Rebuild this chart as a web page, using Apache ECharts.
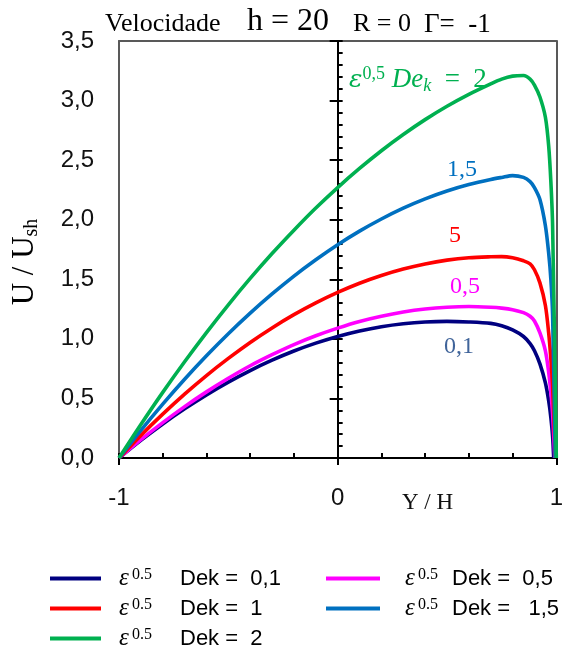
<!DOCTYPE html>
<html>
<head>
<meta charset="utf-8">
<script src="https://cdn.jsdelivr.net/npm/echarts@6/dist/echarts.min.js"></script>
<style>
  html, body { margin: 0; padding: 0; background: #fff; }
  #chart { width: 566px; height: 649px; }
</style>
</head>
<body>
<div id="chart"></div>
<script>
// Y/H positions across the channel (wall at +1 handled per profile)
const posY = [-1, -0.9, -0.8, -0.7, -0.6, -0.5, -0.4, -0.3, -0.2, -0.1, 0,
  0.1, 0.2, 0.3, 0.4, 0.5, 0.6, 0.7, 0.75, 0.8, 0.85, 0.88, 0.9, 0.925, 0.95, 0.965, 0.975, 0.983];
// position where each profile returns to zero at the upper wall
const wallPos = [0.988, 0.993, 0.995, 0.995, 1.0];

// U / Ush profiles for each value of eps^0.5 Dek
const dekNames = ['0,1', '0,5', '1', '1,5', '2'];
const u01 = [0, 0.148, 0.286, 0.413, 0.530, 0.637, 0.734, 0.821, 0.898, 0.964, 1.02,
  1.066, 1.102, 1.127, 1.142, 1.147, 1.142, 1.13, 1.11, 1.075, 1.02, 0.96, 0.9, 0.79, 0.63, 0.48, 0.34, 0.18];
const u05 = [0, 0.154, 0.297, 0.431, 0.555, 0.669, 0.774, 0.867, 0.952, 1.026, 1.09,
  1.146, 1.19, 1.225, 1.25, 1.265, 1.271, 1.265, 1.258, 1.245, 1.22, 1.19, 1.15, 1.05, 0.9, 0.72, 0.55, 0.37];
const u1 = [0, 0.19, 0.368, 0.536, 0.692, 0.836, 0.97, 1.092, 1.203, 1.302, 1.39,
  1.467, 1.532, 1.586, 1.629, 1.661, 1.681, 1.689, 1.69, 1.68, 1.655, 1.63, 1.58, 1.47, 1.28, 1.05, 0.83, 0.6];
const u15 = [0, 0.232, 0.452, 0.661, 0.858, 1.043, 1.216, 1.377, 1.527, 1.664, 1.79,
  1.904, 2.006, 2.097, 2.175, 2.241, 2.295, 2.338, 2.355, 2.37, 2.355, 2.32, 2.27, 2.17, 1.95, 1.72, 1.5, 1.2];
const u2 = [0, 0.281, 0.551, 0.808, 1.053, 1.286, 1.507, 1.716, 1.912, 2.098, 2.27,
  2.43, 2.579, 2.715, 2.84, 2.952, 3.052, 3.14, 3.18, 3.205, 3.21, 3.18, 3.13, 3.03, 2.86, 2.62, 2.32, 1.95];
const profiles = [u01, u05, u1, u15, u2];
const colors = ['#000080', '#FF00FF', '#FF0000', '#0070C0', '#00B050'];

const yTicks = { min: 0, max: 3.5, step: 0.5 };
const xTicks = { min: -1, max: 1, step: 0.2 };

const SANS = '"Liberation Sans", Arial, sans-serif';
const SERIF = '"Liberation Serif", "Times New Roman", serif';
const AXIS_GRAY = '#595959';

const series = profiles.map((u, i) => ({
  name: dekNames[i],
  type: 'line',
  xAxisIndex: 0,
  yAxisIndex: 0,
  data: posY.map((y, k) => [y, u[k]]).concat([[wallPos[i], 0]]),
  showSymbol: false,
  symbol: 'none',
  smooth: 0.3,
  lineStyle: { color: colors[i], width: 3.6 },
  itemStyle: { color: colors[i] },
  z: 3 + i
}));

const legendRich = (epsPad, supWidth) => ({
  e: { fontFamily: SERIF, fontStyle: 'italic', fontSize: 25, color: '#000', lineHeight: 24,
       padding: [0, 0, 0, epsPad], width: 13 },
  s: { fontFamily: SERIF, fontSize: 16, color: '#000', verticalAlign: 'top', lineHeight: 14, width: supWidth },
  t: { fontFamily: SANS, fontSize: 22, color: '#000', lineHeight: 24 }
});

// one legend block per column, laid out vertically
const legendBlock = (names, left, iconWidth, epsPad, supWidth) => ({
  data: names, orient: 'vertical', left: left, top: 566, height: 120, padding: 0,
  icon: 'rect', itemWidth: iconWidth, itemHeight: 4, itemGap: 5, selectedMode: false,
  formatter: name => '{e|ε}{s|0.5}{t|Dek =  ' + (name === '1,5' ? ' ' : '') + name + '}',
  textStyle: { rich: legendRich(epsPad, supWidth) }
});

const option = {
  animation: false,
  backgroundColor: '#fff',
  grid: { left: 119, right: 7, top: 41, bottom: 191, containLabel: false },
  xAxis: [
    { // main Y/H axis: bottom line with upward ticks
      type: 'value', position: 'bottom', min: xTicks.min, max: xTicks.max, interval: xTicks.step,
      axisLine: { onZero: false, lineStyle: { color: '#000', width: 2 } },
      axisTick: { show: true, inside: true, length: 5, lineStyle: { color: '#000', width: 2 } },
      axisLabel: {
        show: true, margin: 28, fontFamily: SANS, fontSize: 24, color: '#111',
        formatter: v => (Math.abs(v - Math.round(v)) < 1e-6 ? String(Math.round(v)) : '')
      },
      splitLine: { show: false }
    },
    { // downward ticks at -1, 0, 1
      type: 'value', position: 'bottom', min: xTicks.min, max: xTicks.max, interval: 1,
      axisLine: { show: false, onZero: false },
      axisTick: { show: true, inside: false, length: 7, lineStyle: { color: '#000', width: 2 } },
      axisLabel: { show: false }, splitLine: { show: false }
    },
    { // top frame
      type: 'value', position: 'top', min: xTicks.min, max: xTicks.max,
      axisLine: { show: true, onZero: false, lineStyle: { color: AXIS_GRAY, width: 2 } },
      axisTick: { show: false }, axisLabel: { show: false }, splitLine: { show: false }
    }
  ],
  yAxis: [
    { // left frame with tick labels
      type: 'value', position: 'left', min: yTicks.min, max: yTicks.max, interval: yTicks.step,
      axisLine: { show: true, onZero: false, lineStyle: { color: AXIS_GRAY, width: 2 } },
      axisTick: { show: false },
      axisLabel: { margin: 25, fontFamily: SANS, fontSize: 24, color: '#111',
        formatter: v => v.toFixed(1).replace('.', ',') },
      splitLine: { show: false }
    },
    { // central axis at Y/H = 0, left half of major ticks
      type: 'value', position: 'left', min: yTicks.min, max: yTicks.max, interval: yTicks.step,
      axisLine: { show: true, onZero: true, onZeroAxisIndex: 0, lineStyle: { color: '#000', width: 2 } },
      axisTick: { show: true, inside: false, length: 8, lineStyle: { color: '#000', width: 2 } },
      axisLabel: { show: false }, splitLine: { show: false }
    },
    { // central axis, right-side major and minor ticks
      type: 'value', position: 'left', min: yTicks.min, max: yTicks.max, interval: yTicks.step,
      axisLine: { show: false, onZero: true, onZeroAxisIndex: 0 },
      axisTick: { show: true, inside: true, length: 5, lineStyle: { color: '#000', width: 2 } },
      minorTick: { show: true, splitNumber: 5, length: 5, lineStyle: { color: '#000', width: 2 } },
      axisLabel: { show: false }, splitLine: { show: false }, minorSplitLine: { show: false }
    },
    { // right frame
      type: 'value', position: 'right', min: yTicks.min, max: yTicks.max,
      axisLine: { show: true, onZero: false, lineStyle: { color: AXIS_GRAY, width: 2 } },
      axisTick: { show: false }, axisLabel: { show: false }, splitLine: { show: false }
    }
  ],
  legend: [
    legendBlock(['0,1', '1', '2'], 50, 51, 13, 48),
    legendBlock(['0,5', '1,5'], 326, 54, 20, 34)
  ],
  graphic: [
    { type: 'text', left: 105, top: 11, style: { text: 'Velocidade', font: '26px ' + SERIF, fill: '#000' } },
    { type: 'text', left: 247, top: 6, style: { text: 'h = 20', font: '32px ' + SERIF, fill: '#000' } },
    { type: 'text', left: 353, top: 11, style: { text: 'R = 0', font: '26px ' + SERIF, fill: '#000' } },
    { type: 'text', left: 424, top: 11, style: { text: 'Γ=  -1', font: '27px ' + SERIF, fill: '#000' } },
    {
      type: 'text', x: 25, y: 262, rotation: Math.PI / 2,
      style: {
        text: '{m|U / U}{s|sh}', align: 'center', verticalAlign: 'middle',
        rich: {
          m: { fontFamily: SERIF, fontSize: 31, fill: '#000', lineHeight: 34 },
          s: { fontFamily: SERIF, fontSize: 20, fill: '#000', lineHeight: 19, verticalAlign: 'bottom' }
        }
      }
    },
    { type: 'text', left: 402, top: 491, style: { text: 'Y / H', font: '23px ' + SERIF, fill: '#111' } },
    {
      type: 'text', x: 349, y: 80,
      style: {
        text: '{e|ε}{p|0,5}{d| De}{k|k}{q|  =  2}', align: 'left', verticalAlign: 'middle',
        rich: {
          e: { fontFamily: '"DejaVu Serif", serif', fontStyle: 'italic', fontSize: 25, fill: '#00B050', lineHeight: 30 },
          p: { fontFamily: SERIF, fontSize: 18, fill: '#00B050', lineHeight: 17, verticalAlign: 'top' },
          d: { fontFamily: SERIF, fontStyle: 'italic', fontSize: 27, fill: '#00B050', lineHeight: 30 },
          k: { fontFamily: SERIF, fontStyle: 'italic', fontSize: 18, fill: '#00B050', lineHeight: 17, verticalAlign: 'bottom' },
          q: { fontFamily: SERIF, fontSize: 27, fill: '#00B050', lineHeight: 30 }
        }
      }
    },
    { type: 'text', x: 462, y: 170, style: { text: '1,5', font: '24px ' + SERIF, fill: '#0070C0', align: 'center', verticalAlign: 'middle' } },
    { type: 'text', x: 455, y: 236, style: { text: '5', font: '24px ' + SERIF, fill: '#FF0000', align: 'center', verticalAlign: 'middle' } },
    { type: 'text', x: 465, y: 287, style: { text: '0,5', font: '24px ' + SERIF, fill: '#FF00FF', align: 'center', verticalAlign: 'middle' } },
    { type: 'text', x: 459, y: 347, style: { text: '0,1', font: '24px ' + SERIF, fill: '#40649A', align: 'center', verticalAlign: 'middle' } }
  ],
  series: series
};

const chart = echarts.init(document.getElementById('chart'), null, { renderer: 'canvas' });
chart.setOption(option);
</script>
</body>
</html>
